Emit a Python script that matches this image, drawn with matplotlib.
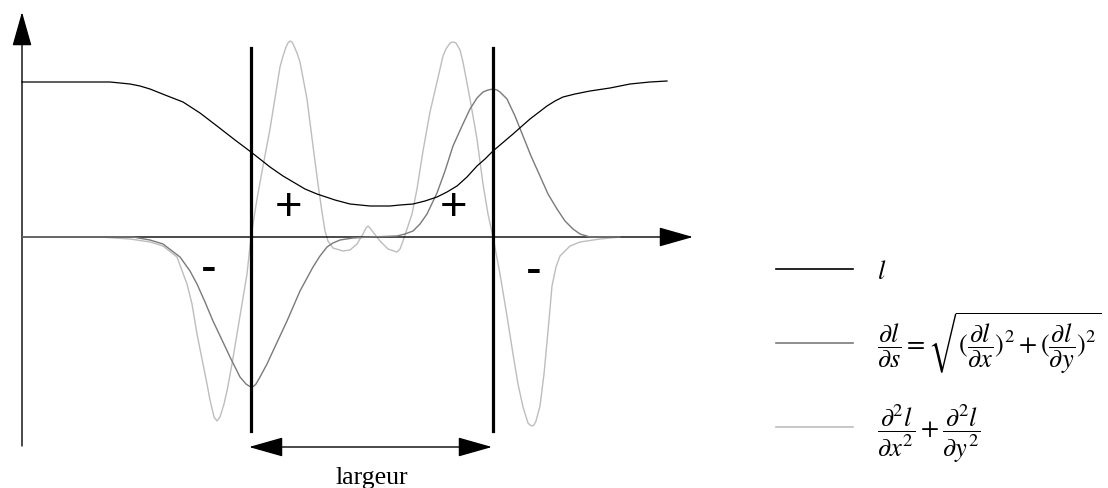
import matplotlib
matplotlib.use('Agg')
import matplotlib.pyplot as plt
from matplotlib.lines import Line2D

plt.rcParams['mathtext.fontset'] = 'stix'
plt.rcParams['font.family'] = ['Liberation Serif', 'DejaVu Serif']

# profil l (noir)
l_x = [0, 88, 98, 108, 118, 128, 143, 161, 178, 195, 213, 229, 248, 261, 283,
       295, 313, 328, 338, 348, 358, 368, 378, 391, 403, 415, 425, 435, 445,
       455, 463, 471, 491, 508, 525, 533, 541, 553, 568, 588, 608, 628, 645]
l_y = [155, 155, 154, 153, 151, 148, 142, 135, 124, 111, 97, 85, 70, 61, 48,
       43, 37, 33, 32, 31, 31, 31, 32, 33, 36, 40, 45, 51, 60,
       71, 78, 86, 103, 118, 131, 136, 140, 143, 146, 149, 153, 155, 156]

# dl/ds (gris fonce)
ds_x = [0, 111, 128, 141, 158, 168, 175, 183, 191, 200,
        208, 218, 224, 227, 230, 232, 234, 238, 245, 251, 258, 265,
        278, 291, 298, 305, 311, 318, 331, 348, 375, 383,
        391, 398, 405, 415, 423, 431, 440, 448, 455, 461,
        466, 471, 475, 478, 485, 493, 501, 509, 518, 526, 535,
        543, 551, 558, 568, 598]
ds_y = [0, 0, -3, -7, -20, -34, -47, -65, -84, -103,
        -120, -140, -147, -149, -150, -149, -147, -140, -127, -114, -99, -84,
        -54, -30, -19, -10, -6, -3, -1, 0, 1, 3,
        6, 13, 23, 44, 66, 91, 111, 128, 139, 145,
        147, 148, 147, 145, 138, 121, 101, 81, 61, 43, 28,
        16, 8, 3, 0, 0]

# laplacien (gris clair)
lap_x = [0, 78, 108, 128, 141, 155, 165, 170, 175, 180,
         185, 188, 192, 195, 198, 202, 205, 210, 215, 220, 225, 229,
         235, 241, 248, 258, 261, 264, 266, 268, 270, 272, 275, 278, 285, 291,
         296, 300, 303, 306, 311, 321, 328, 335, 341, 344, 346, 348,
         351, 358, 366, 375, 378, 381, 390, 395, 401, 408,
         415, 421, 424, 428, 431, 434, 438, 441, 448, 455, 461, 466,
         471, 478, 485, 491, 496, 501, 506, 508, 510, 512, 514, 518,
         522, 525, 528, 530, 534, 538, 548, 558, 578, 598]
lap_y = [0, 0, -2, -5, -9, -20, -47, -67, -97, -122,
         -147, -163, -180, -184, -180, -167, -154, -127, -97, -67, -37, 0,
         38, 71, 108, 170, 181, 190, 194, 196, 195, 191, 184, 175, 138, 91,
         53, 25, 6, -4, -11, -14, -13, -7, 3, 9, 11, 9,
         5, -4, -12, -15, -12, -4, 23, 48, 86, 125,
         155, 181, 188, 194, 195, 194, 187, 175, 138, 98, 53, 23,
         0, -37, -79, -117, -147, -170, -186, -188, -189, -188, -184, -169,
         -137, -105, -72, -49, -30, -19, -9, -5, -2, 0]

# bords (zero-crossings) et signes
edges = [229, 471]
signs = ['+', '+', '-', '-']
sign_x = [267, 432, 187, 512]
sign_y = [30, 30, -32, -34]

labels = [r'$l$',
          r'$\dfrac{\partial l}{\partial s}=\sqrt{(\dfrac{\partial l}{\partial x})^{2}+(\dfrac{\partial l}{\partial y})^{2}}$',
          r'$\dfrac{\partial^2 l}{\partial x^2}+\dfrac{\partial^2 l}{\partial y^2}$']
colors = ['black', '#7a7a7a', '#bdbdbd']

fig = plt.figure(figsize=(11.08, 4.89), dpi=100)
ax = fig.add_axes([0, 0, 1, 1])
ax.set_xlim(-22, 1086)
ax.set_ylim(-251, 238)
ax.axis('off')

arrow = dict(arrowstyle='-|>,head_length=0.6,head_width=0.17', mutation_scale=36,
             color='black', lw=1.0, shrinkA=0, shrinkB=0)
ax.annotate('', xy=(0, 225), xytext=(0, -209), arrowprops=arrow)
ax.annotate('', xy=(671, 0), xytext=(0, 0), arrowprops=arrow)

ax.plot(lap_x, lap_y, color=colors[2], lw=1.0, zorder=2)
ax.plot(ds_x, ds_y, color=colors[1], lw=1.0, zorder=3)
ax.plot(l_x, l_y, color=colors[0], lw=0.9, zorder=4)

for e in edges:
    ax.plot([e, e], [189, -194], color='black', lw=2.3, zorder=5)

dbl = dict(arrowstyle='<|-|>,head_length=0.6,head_width=0.17', mutation_scale=36,
           color='black', lw=1.0, shrinkA=0, shrinkB=0)
ax.annotate('', xy=(edges[1] - 1, -210), xytext=(edges[0] - 2, -210), arrowprops=dbl)
ax.text((edges[0] + edges[1]) / 2, -240, 'largeur', fontsize=18.5,
        ha='center', va='center')

for s, x, y in zip(signs, sign_x, sign_y):
    ax.text(x, y, s, fontsize=34, family='Liberation Sans', ha='center', va='center')

handles = [Line2D([], [], color=c, lw=1.2) for c in colors]
leg = ax.legend(handles, labels, loc='center left', bbox_to_anchor=(776 / 1108, 1 - 363 / 489),
                bbox_transform=fig.transFigure, frameon=False, fontsize=19,
                handlelength=2.92, handletextpad=0.9, labelspacing=1.02,
                borderpad=0, borderaxespad=0)

fig.savefig('out.png', dpi=100)
